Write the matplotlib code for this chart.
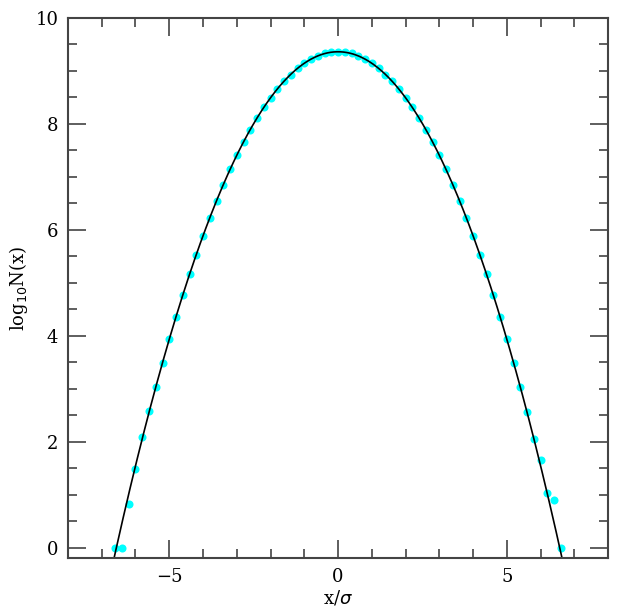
import numpy as np
import matplotlib
matplotlib.use("Agg")
import matplotlib.pyplot as plt
from matplotlib.ticker import MultipleLocator

# Data points (x in units of sigma, log10 N)
x_pts = [-6.6, -6.4, -6.2, -6.0, -5.8, -5.6, -5.4, -5.2, -5.0, -4.8, -4.6, -4.4,
         -4.2, -4.0, -3.8, -3.6, -3.4, -3.2, -3.0, -2.8, -2.6, -2.4, -2.2, -2.0,
         -1.8, -1.6, -1.4, -1.2, -1.0, -0.8, -0.6, -0.4, -0.2, 0.0,
         0.2, 0.4, 0.6, 0.8, 1.0, 1.2, 1.4, 1.6, 1.8, 2.0, 2.2, 2.4, 2.6, 2.8,
         3.0, 3.2, 3.4, 3.6, 3.8, 4.0, 4.2, 4.4, 4.6, 4.8, 5.0, 5.2, 5.4, 5.6,
         5.8, 6.0, 6.2, 6.4, 6.6]
y_pts = [0.00, 0.00, 0.83, 1.49, 2.09, 2.57, 3.03, 3.49, 3.93, 4.36, 4.77, 5.16,
         5.53, 5.89, 6.22, 6.55, 6.85, 7.14, 7.41, 7.66, 7.89, 8.11, 8.31, 8.49,
         8.66, 8.80, 8.93, 9.05, 9.14, 9.22, 9.28, 9.33, 9.35, 9.36,
         9.35, 9.33, 9.28, 9.22, 9.14, 9.05, 8.93, 8.80, 8.66, 8.49, 8.31, 8.11,
         7.89, 7.66, 7.41, 7.14, 6.85, 6.55, 6.22, 5.89, 5.53, 5.16, 4.77, 4.36,
         3.93, 3.49, 3.03, 2.55, 2.05, 1.65, 1.03, 0.90, 0.00]

# Gaussian model curve parameters
log_peak = 9.36
sigma = 1.0

fig = plt.figure(figsize=(6.18, 6.16), dpi=100)
ax = fig.add_axes([0.110, 0.094, 0.874, 0.877])

xm = np.linspace(-7.0, 7.0, 600)
ym = log_peak - (xm / sigma) ** 2 / (2 * np.log(10))
ax.plot(xm, ym, color="black", lw=1.2, zorder=2)
ax.plot(x_pts, y_pts, "o", color="#00ffff", ms=5.8, mec="none", zorder=1)

ax.set_xlim(-8, 8)
ax.set_ylim(-0.2, 10)
ax.xaxis.set_major_locator(MultipleLocator(5))
ax.xaxis.set_minor_locator(MultipleLocator(1))
ax.yaxis.set_major_locator(MultipleLocator(2))
ax.yaxis.set_minor_locator(MultipleLocator(0.5))
ax.tick_params(which="both", direction="in", top=True, right=True, color="#333333")
ax.tick_params(which="major", length=13, width=1.1)
ax.tick_params(which="minor", length=6.5, width=1.1)
ax.tick_params(axis="both", labelsize=13, pad=7)
for lab in ax.get_xticklabels() + ax.get_yticklabels():
    lab.set_family("DejaVu Serif")
for s in ax.spines.values():
    s.set_linewidth(1.5)
    s.set_color("#444444")

ax.set_xlabel(r"x/$\sigma$", fontsize=13, family="DejaVu Serif", labelpad=2)
ax.set_ylabel(r"log$_{10}$N(x)", fontsize=13, family="DejaVu Serif", labelpad=4)

fig.savefig("out.png", dpi=100)
